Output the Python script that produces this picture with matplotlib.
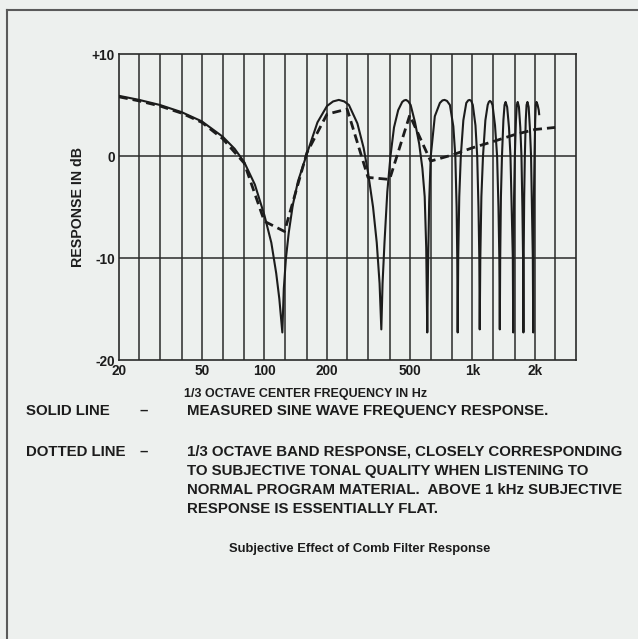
import matplotlib
matplotlib.use("Agg")
import matplotlib.pyplot as plt
from matplotlib.lines import Line2D

# ---- data ----
third_octave_centers = [20, 25, 31.5, 40, 50, 63, 80, 100, 125, 160, 200, 250,
                        315, 400, 500, 630, 800, 1000, 1250, 1600, 2000, 2500]
x_tick_values = [20, 50, 100, 200, 500, 1000, 2000]
x_tick_labels = ["20", "50", "100", "200", "500", "1k", "2k"]
y_tick_values = [-20, -10, 0, 10]
y_tick_labels = ["-20", "-10", "0", "+10"]

# measured sine wave response (solid)
solid_freq = [20, 25, 31.5, 40, 50, 63, 72, 80, 90, 100, 108, 114, 118, 122,
              124, 127, 131, 137, 145, 160, 180, 200, 214, 228, 242, 255, 280, 300, 315, 333, 347, 358, 365,
              370, 378, 390, 404, 420, 440, 460, 470, 480, 492, 505, 530, 555, 575, 590, 600, 607,
              612, 620, 631, 660, 698, 718, 735, 755, 780, 810, 828, 840, 846, 850,
              855, 865, 880, 905, 935, 955, 970, 988, 1005, 1035, 1055, 1070, 1080, 1085,
              1092, 1105, 1125, 1155, 1185, 1200, 1215, 1232, 1250, 1285, 1315, 1335, 1348, 1355,
              1361, 1372, 1388, 1410, 1428, 1445, 1470, 1500, 1525, 1545, 1565, 1572,
              1577, 1587, 1600, 1620, 1636, 1652, 1675, 1700, 1722, 1740, 1753, 1760,
              1765, 1775, 1788, 1806, 1822, 1840, 1865, 1890, 1915, 1935, 1953, 1962,
              1967, 1977, 1990, 2005, 2018, 2035, 2060, 2085, 2095]
solid_db = [5.9, 5.5, 5.0, 4.3, 3.4, 1.9, 0.7, -0.6, -2.8, -5.8, -8.5, -11.5, -14.0, -17.3,
            -13.0, -10.0, -7.5, -4.8, -2.5, 0.2, 3.3, 4.9, 5.35, 5.5, 5.35, 5.0, 3.2, 0.8, -1.6, -5.0, -8.5, -12.5, -17.0,
            -12.5, -8.5, -3.5, 0.0, 2.8, 4.5, 5.3, 5.45, 5.5, 5.35, 5.0, 3.3, 1.2, -1.2, -4.0, -9.0, -17.3,
            -11.0, -4.5, 0.0, 3.9, 5.2, 5.45, 5.5, 5.4, 5.0, 2.9, 0.0, -5.0, -10.0, -17.3,
            -10.0, -4.0, 0.0, 3.5, 5.2, 5.45, 5.5, 5.4, 5.0, 3.0, 0.0, -5.0, -10.0, -17.0,
            -10.0, -4.0, 0.0, 3.5, 5.0, 5.3, 5.4, 5.3, 5.0, 3.0, 0.0, -5.0, -10.0, -17.0,
            -10.0, -4.0, 0.0, 3.5, 5.0, 5.3, 4.8, 2.8, 0.0, -5.0, -10.0, -17.3,
            -10.0, -4.0, 0.0, 3.5, 5.0, 5.3, 4.8, 2.8, 0.0, -5.0, -10.0, -17.3,
            -10.0, -4.0, 0.0, 3.5, 5.0, 5.3, 4.8, 2.8, 0.0, -5.0, -10.0, -17.3,
            -10.0, -4.0, 0.0, 3.5, 5.0, 5.3, 5.0, 4.5, 4.1]

# 1/3 octave band response (dotted)
band_freq = [20, 25, 31.5, 40, 50, 63, 80, 100, 125, 160, 200, 250,
             315, 400, 500, 630, 800, 1000, 1250, 1600, 2000, 2500]
band_db = [5.8, 5.4, 4.9, 4.2, 3.3, 1.7, -0.7, -6.4, -7.4, 0.3, 4.1, 4.6,
           -2.1, -2.3, 4.0, -0.5, 0.1, 0.8, 1.4, 2.1, 2.6, 2.8]

W, H = 638, 639
BG = "#edf0ee"
INK = "#1c1c1c"
FONT = "Liberation Sans"

fig = plt.figure(figsize=(W / 100, H / 100), dpi=100, facecolor=BG)


def fx(x):
    return x / W


def fy(y):
    return 1 - y / H


ax = fig.add_axes([fx(119), fy(360), fx(576) - fx(119), fy(54) - fy(360)], facecolor=BG)
ax.set_xscale("log")
ax.set_xlim(20, 3150)
ax.set_ylim(-20, 10)

for f in third_octave_centers[1:]:
    ax.axvline(f, color="#2a2a2a", lw=1.1, zorder=1)
for v in [-10, 0]:
    ax.axhline(v, color="#2a2a2a", lw=1.1, zorder=1)

ax.plot(solid_freq, solid_db, color=INK, lw=1.5, zorder=3, solid_joinstyle="round")
ax.plot(band_freq, band_db, color=INK, lw=2.0, ls=(0, (3.2, 1.8)), zorder=4)

ax.set_xticks(x_tick_values)
ax.set_xticklabels(x_tick_labels)
ax.xaxis.set_minor_locator(matplotlib.ticker.NullLocator())
ax.set_yticks(y_tick_values)
ax.set_yticklabels(y_tick_labels)
ax.tick_params(length=0, labelsize=9.8, colors=INK)
ax.tick_params(axis="x", pad=3)
ax.tick_params(axis="y", pad=3)
for lab in ax.get_xticklabels() + ax.get_yticklabels():
    lab.set_fontweight("bold")
    lab.set_fontfamily(FONT)
for s in ax.spines.values():
    s.set_color("#2a2a2a")
    s.set_linewidth(1.2)

ax.set_ylabel("RESPONSE IN dB", fontsize=10.2, fontweight="bold", family=FONT,
              color=INK, labelpad=5)

# frame of the page
fig.add_artist(Line2D([fx(7), 1], [fy(10), fy(10)], color="#5a5a5a", lw=1.5))
fig.add_artist(Line2D([fx(7), fx(7)], [fy(10), 0], color="#5a5a5a", lw=1.5))

tk = dict(fontsize=10.8, fontweight="bold", family=FONT, color=INK, va="center", ha="left")
fig.text(fx(184), fy(394), "1/3 OCTAVE CENTER FREQUENCY IN Hz", fontsize=9.0,
         fontweight="bold", family=FONT, color=INK, va="center", ha="left")
fig.text(fx(26), fy(411), "SOLID LINE", **tk)
fig.text(fx(140), fy(411), "\u2013", **tk)
fig.text(fx(187), fy(411), "MEASURED SINE WAVE FREQUENCY RESPONSE.", **tk)
fig.text(fx(26), fy(452), "DOTTED LINE", **tk)
fig.text(fx(140), fy(452), "\u2013", **tk)
fig.text(fx(187), fy(452), "1/3 OCTAVE BAND RESPONSE, CLOSELY CORRESPONDING", **tk)
fig.text(fx(187), fy(471), "TO SUBJECTIVE TONAL QUALITY WHEN LISTENING TO", **tk)
fig.text(fx(187), fy(490), "NORMAL PROGRAM MATERIAL.  ABOVE 1 kHz SUBJECTIVE", **tk)
fig.text(fx(187), fy(509), "RESPONSE IS ESSENTIALLY FLAT.", **tk)
fig.text(fx(360), fy(549), "Subjective Effect of Comb Filter Response", fontsize=9.4,
         fontweight="bold", family=FONT, color=INK, ha="center", va="center")

fig.savefig("out.png", dpi=100, facecolor=BG)
